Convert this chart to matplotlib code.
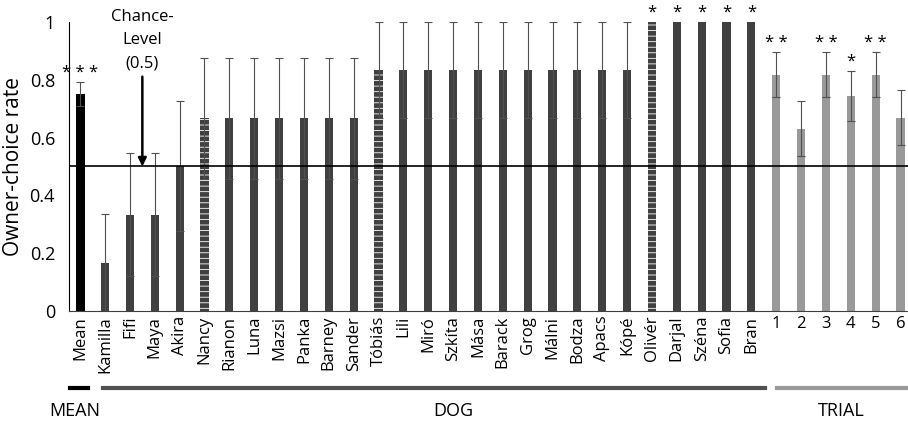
#!/usr/bin/env python3
"""Owner-choice rate per dog and per trial"""
import matplotlib
matplotlib.use('Agg')
import matplotlib.pyplot as plt
import matplotlib.transforms as mtransforms

plt.rcParams['font.family'] = ['Open Sans', 'DejaVu Sans']
plt.rcParams['hatch.color'] = 'white'
plt.rcParams['hatch.linewidth'] = 0.6

dogs = ['Kamilla', 'Fifi', 'Maya', 'Akira', 'Nancy', 'Rianon', 'Luna', 'Mazsi',
        'Panka', 'Barney', 'Sander', 'Tóbiás', 'Lili', 'Miró', 'Szkíta', 'Mása',
        'Barack', 'Grog', 'Málni', 'Bodza', 'Apacs', 'Kópé', 'Olivér', 'Darjal',
        'Széna', 'Sofia', 'Bran']
dog_rate = [0.167, 0.333, 0.333, 0.5, 0.667, 0.667, 0.667, 0.667,
            0.667, 0.667, 0.667, 0.833, 0.833, 0.833, 0.833, 0.833,
            0.833, 0.833, 0.833, 0.833, 0.833, 0.833, 1, 1,
            1, 1, 1]
dog_err = [0.167, 0.213, 0.213, 0.225, 0.21, 0.21, 0.21, 0.21,
           0.21, 0.21, 0.21, 0.167, 0.167, 0.167, 0.167, 0.167,
           0.167, 0.167, 0.167, 0.167, 0.167, 0.167, 0, 0,
           0, 0, 0]
dog_hatched = ['Nancy', 'Tóbiás', 'Olivér']
dog_stars = ['', '', '', '', '', '', '', '',
             '', '', '', '', '', '', '', '',
             '', '', '', '', '', '', '*', '*',
             '*', '*', '*']

trials = ['1', '2', '3', '4', '5', '6']
trial_rate = [0.818, 0.63, 0.818, 0.743, 0.818, 0.668]
trial_err = [0.078, 0.095, 0.078, 0.087, 0.078, 0.095]
trial_stars = ['**', '', '**', '*', '**', '']

mean_rate = 0.75
mean_err = 0.042
mean_stars = '***'

fig = plt.figure(figsize=(9.08, 4.23), dpi=100)
ax = fig.add_axes([0.076, 0.265, 0.924, 0.683])

err_kw = dict(ecolor='#505050', elinewidth=0.8, capsize=3, capthick=0.8)

# mean bar
ax.bar(0, mean_rate, width=0.36, color='black', yerr=mean_err, error_kw=err_kw)

# dog bars
dog_x = list(range(1, len(dogs) + 1))
for x, name, r, e in zip(dog_x, dogs, dog_rate, dog_err):
    if name in dog_hatched:
        ax.bar(x, r, width=0.33, facecolor='#404040', hatch='---', edgecolor='white', linewidth=0)
        if e > 0:
            ax.errorbar(x, r, yerr=e, fmt='none', **err_kw)
    else:
        ax.bar(x, r, width=0.33, color='#404040', yerr=e if e > 0 else None, error_kw=err_kw)

# trial bars
trial_x = list(range(len(dogs) + 1, len(dogs) + 1 + len(trials)))
ax.bar(trial_x, trial_rate, width=0.33, color='#999999', yerr=trial_err, error_kw=err_kw)

# significance stars (spaced like the original)
def star_text(s):
    return ' '.join(s)

ax.text(0, mean_rate + mean_err + 0.005, star_text(mean_stars), ha='center', va='bottom', fontsize=12)
for x, r, e, s in zip(dog_x, dog_rate, dog_err, dog_stars):
    if s:
        ax.text(x, r + e + 0.005, star_text(s), ha='center', va='bottom', fontsize=12, clip_on=False)
for x, r, e, s in zip(trial_x, trial_rate, trial_err, trial_stars):
    if s:
        ax.text(x, r + e + 0.005, star_text(s), ha='center', va='bottom', fontsize=12)

# chance level
ax.axhline(0.5, color='black', linewidth=1.2)
ax.annotate('Chance-\nLevel\n(0.5)', xy=(2.5, 0.5), xytext=(2.5, 0.83),
            ha='center', va='bottom', fontsize=12, linespacing=1.6,
            arrowprops=dict(arrowstyle='-|>', color='black', lw=1.8, mutation_scale=12,
                            shrinkA=2, shrinkB=0))

ax.set_xlim(-0.45, 33.3)
ax.set_ylim(0, 1)
ax.set_yticks([0, 0.2, 0.4, 0.6, 0.8, 1])
ax.set_yticklabels(['0', '0.2', '0.4', '0.6', '0.8', '1'], fontsize=13)
ax.set_ylabel('Owner-choice rate', fontsize=15)
ax.tick_params(axis='y', length=0, pad=10)
ax.tick_params(axis='x', length=0)

ax.set_xticks([0] + dog_x + trial_x)
labels = ax.set_xticklabels(['Mean'] + dogs + trials, fontsize=12)
for lab in labels[:1 + len(dogs)]:
    lab.set_rotation(90)
    lab.set_va('top')
    lab.set_ha('center')

ax.spines['top'].set_visible(False)
ax.spines['right'].set_visible(False)
ax.spines['left'].set_color('black')
ax.spines['bottom'].set_color('#404040')

# group brackets below the labels
trans = mtransforms.blended_transform_factory(ax.transData, ax.transAxes)
ax.plot([-0.4, 0.3], [-0.266, -0.266], color='black', lw=3, transform=trans, clip_on=False)
ax.plot([0.93, 27.56], [-0.266, -0.266], color='#505050', lw=3, transform=trans, clip_on=False)
ax.plot([28.05, 33.3], [-0.266, -0.266], color='#999999', lw=3, transform=trans, clip_on=False)
ax.text(-0.2, -0.345, 'MEAN', ha='center', va='center', fontsize=13, transform=trans)
ax.text(15.0, -0.345, 'DOG', ha='center', va='center', fontsize=13, transform=trans)
ax.text(30.6, -0.345, 'TRIAL', ha='center', va='center', fontsize=13, transform=trans)

plt.savefig('out.png', dpi=100)
